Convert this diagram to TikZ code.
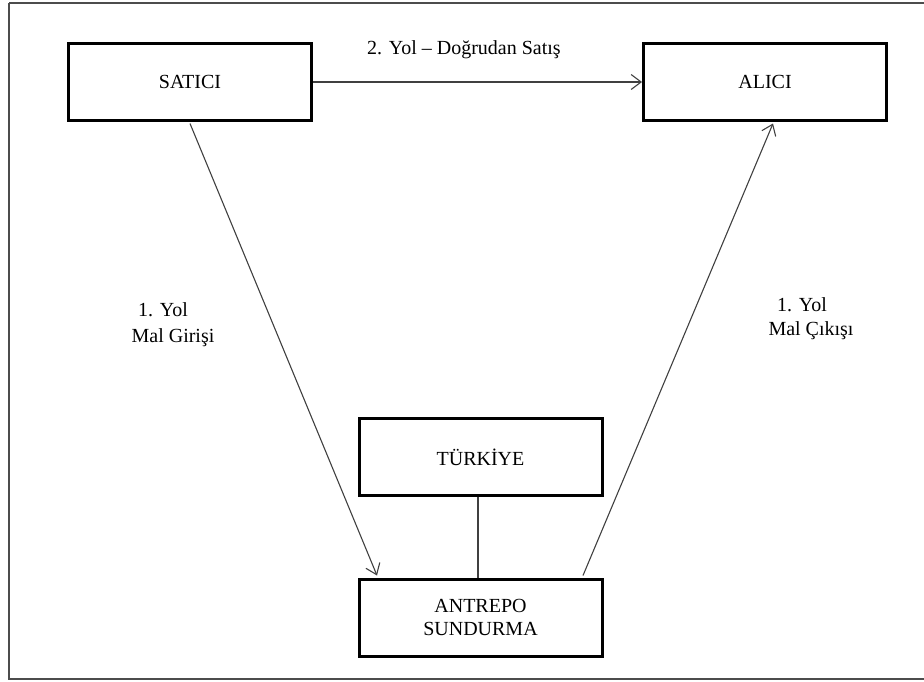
\documentclass[tikz,border=0pt]{standalone}
\usepackage{fontspec}
\setmainfont{Liberation Serif}
\usetikzlibrary{arrows.meta}
\begin{document}
\begin{tikzpicture}[x=1pt,y=-1pt,
  box/.style={draw=black,line width=3pt,minimum width=243pt,minimum height=77pt,
    inner sep=0pt,align=center,font=\fontsize{20}{23}\selectfont},
  flow/.style={draw=black!75,line width=1.1pt,-{Straight Barb[length=10pt,width=15pt,line width=1.1pt]}},
  link/.style={draw=black!75,line width=1.1pt},
  lbl/.style={font=\fontsize{20}{23}\selectfont,inner sep=0pt,align=center}]
  \useasboundingbox (0,0) rectangle (924,681);
  % outer frame
  \draw[draw=black!70,line width=1.6pt] (9,2.7) -- (9,679) -- (930,679);
  \draw[draw=black!70,line width=1.6pt] (9,2.7) -- (930,2.7);

  % boxes
  \node[box] (sat) at (190,82) {SATICI};
  \node[box] (ali) at (765,82) {ALICI};
  \node[box] (tur) at (480.5,457) {TÜRKİYE};
  \node[box] (ant) at (480.5,617.5) {ANTREPO\\SUNDURMA};

  % connection points
  \coordinate (s1) at (190,123.5);
  \coordinate (a1) at (377,575.5);
  \coordinate (a2) at (583,575.5);
  \coordinate (b1) at (773,123.5);

  % connectors
  \draw[flow] (sat.east) -- (ali.west);
  \draw[flow] (s1) -- (a1);
  \draw[flow] (a2) -- (b1);
  \draw[link] (tur.south -| 478,0) -- (ant.north -| 478,0);

  % labels
  \node[lbl] at (464,50) {2. Yol – Doğrudan Satış};
  \node[lbl] at (163,310) {1. Yol};
  \node[lbl] at (173,338) {Mal Girişi};
  \node[lbl] at (802,305) {1. Yol};
  \node[lbl] at (811,331) {Mal Çıkışı};
\end{tikzpicture}
\end{document}
